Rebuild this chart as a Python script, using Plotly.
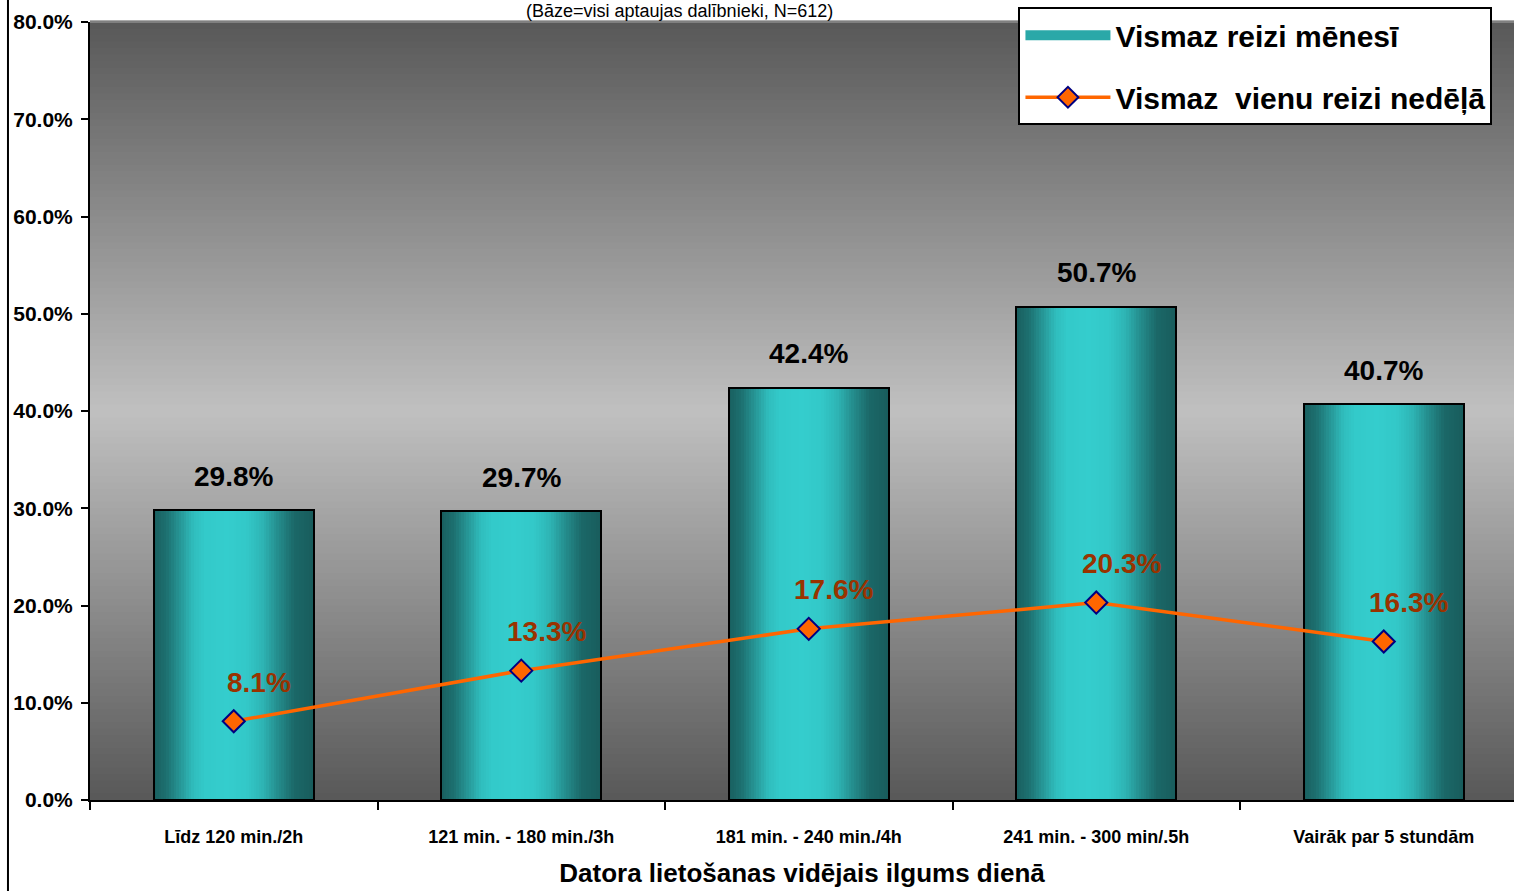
import plotly.graph_objects as go

categories = ["Līdz 120 min./2h", "121 min. - 180 min./3h", "181 min. - 240 min./4h",
              "241 min. - 300 min/.5h", "Vairāk par 5 stundām"]
monthly = [29.8, 29.7, 42.4, 50.7, 40.7]
weekly = [8.1, 13.3, 17.6, 20.3, 16.3]
series_names = ["Vismaz reizi mēnesī", "Vismaz  vienu reizi nedēļā"]
subtitle = "(Bāze=visi aptaujas dalībnieki, N=612)"
x_title = "Datora lietošanas vidējais ilgums dienā"

FONT = "Arial, Liberation Sans, sans-serif"
BAR_W = 0.5565
N_STRIPS = 64

fig = go.Figure()

# cylinder-like gradient for bars: vertical strips
prof_t = [0.0, 0.08, 0.18, 0.25, 0.32, 0.45, 0.58, 0.68, 0.78, 0.88, 1.0]
prof_b = [0.02, 0.18, 0.58, 0.86, 0.97, 1.0, 0.96, 0.78, 0.42, 0.1, 0.0]
dark = (24, 92, 92)
bright = (52, 205, 205)


def interp(t):
    for i in range(len(prof_t) - 1):
        if prof_t[i] <= t <= prof_t[i + 1]:
            f = (t - prof_t[i]) / (prof_t[i + 1] - prof_t[i])
            return prof_b[i] + f * (prof_b[i + 1] - prof_b[i])
    return prof_b[-1]


sw = BAR_W / N_STRIPS
for i in range(N_STRIPS):
    b = interp((i + 0.5) / N_STRIPS)
    col = "rgb(%d,%d,%d)" % tuple(round(dark[k] + b * (bright[k] - dark[k])) for k in range(3))
    w = sw * 1.6 if i < N_STRIPS - 1 else sw
    fig.add_trace(go.Bar(
        x=categories, y=monthly, offset=-BAR_W / 2 + i * sw, width=w,
        marker=dict(color=col, line=dict(width=0)),
        showlegend=False, hoverinfo="skip"))

# outline of bars
fig.add_trace(go.Bar(
    x=categories, y=monthly, width=BAR_W, offset=-BAR_W / 2,
    marker=dict(color="rgba(0,0,0,0)", line=dict(color="black", width=2)),
    showlegend=False, hoverinfo="skip"))

# legend entry for bars (wide swatch)
fig.add_trace(go.Scatter(
    x=[categories[0]], y=[None], name=series_names[0], legendgroup="a",
    mode="lines", line=dict(color="rgb(42,168,168)", width=20)))

fig.add_trace(go.Scatter(
    x=categories, y=weekly, mode="lines+markers", name=series_names[1], legendgroup="b",
    line=dict(color="#FF6600", width=3.5),
    marker=dict(symbol="diamond", size=17, color="#FF6600",
                line=dict(color="#000080", width=2))))

annotations = []
for c, v in zip(categories, monthly):
    annotations.append(dict(x=c, y=v, xref="x", yref="y", text="%.1f%%" % v,
                            showarrow=False, yshift=34, yanchor="middle",
                            font=dict(family=FONT, size=28, color="black", weight="bold")))
for c, v in zip(categories, weekly):
    annotations.append(dict(x=c, y=v, xref="x", yref="y", text="%.1f%%" % v,
                            showarrow=False, yshift=39, xshift=25, yanchor="middle",
                            font=dict(family=FONT, size=28, color="#993300", weight="bold")))
annotations.append(dict(x=0.414, y=1.0144, xref="paper", yref="paper", text=subtitle,
                        showarrow=False, yanchor="middle",
                        font=dict(family=FONT, size=18, color="black")))

# background vertical gradient (dark - light - dark)
shapes = []
NB = 120
for j in range(NB):
    yc = (j + 0.5) / NB
    d = abs(yc - 0.5) / 0.5
    g = round(192 - (192 - 88) * d)
    shapes.append(dict(type="rect", xref="paper", yref="paper", x0=0, x1=1,
                       y0=j / NB, y1=(j + 1) / NB + 0.002, layer="below",
                       fillcolor="rgb(%d,%d,%d)" % (g, g, g), line=dict(width=0)))
shapes.append(dict(type="line", xref="paper", yref="paper", x0=0, x1=1,
                   y0=1, y1=1, layer="below", line=dict(color="#a8a8a8", width=1)))
shapes.append(dict(type="line", xref="paper", yref="paper", x0=-0.0576, x1=-0.0576,
                   y0=-0.2, y1=1.1, line=dict(color="black", width=2)))

fig.update_layout(
    width=1514, height=891, autosize=False,
    margin=dict(l=90, r=0, t=22, b=91),
    paper_bgcolor="white", plot_bgcolor="rgb(150,150,150)",
    barmode="overlay", bargap=0,
    font=dict(family=FONT, color="black"),
    annotations=annotations, shapes=shapes,
    xaxis=dict(type="category", range=[-0.5, 4.453], tickson="boundaries",
               ticks="outside", ticklen=8, tickwidth=2, tickcolor="black",
               showline=True, linecolor="black", linewidth=2, showgrid=False,
               ticklabelstandoff=19,
               tickfont=dict(family=FONT, size=18, weight="bold"),
               title=dict(text=x_title, standoff=18,
                          font=dict(family=FONT, size=26, weight="bold"))),
    yaxis=dict(range=[0, 80], dtick=10, tickformat=".1f", ticksuffix="%",
               ticks="outside", ticklen=7, tickwidth=2, tickcolor="black",
               showline=True, linecolor="black", linewidth=2, showgrid=False,
               zeroline=False, ticklabelstandoff=4,
               tickfont=dict(family=FONT, size=21, weight="bold")),
    legend=dict(x=0.652, y=1.019, xanchor="left", yanchor="top",
                bgcolor="white", bordercolor="black", borderwidth=2,
                font=dict(family=FONT, size=30, weight="bold"),
                itemwidth=85, tracegroupgap=20, traceorder="grouped"),
)

fig.write_html("out.html", config={"displayModeBar": False},
               post_script="document.body.style.margin='0';")
